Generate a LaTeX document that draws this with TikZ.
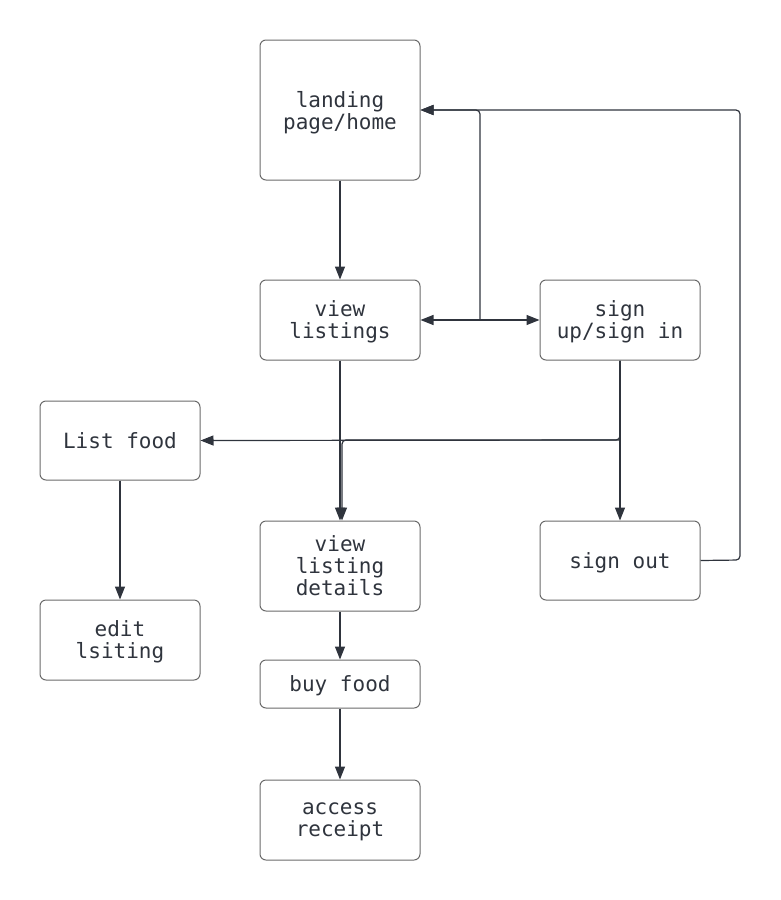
\documentclass[tikz,border=0pt]{standalone}
\usepackage{fontspec}
\usetikzlibrary{arrows.meta}
\newfontfamily\monofont{DejaVu Sans Mono}
\definecolor{ink}{HTML}{2F343D}
\definecolor{edge}{HTML}{6A6A6A}

\begin{document}
\begin{tikzpicture}[x=1pt,y=-1pt]
    \tikzstyle{every node}=[font=\monofont\fontsize{21}{22}\selectfont,text=ink]
    \tikzstyle{page}=[draw=edge,line width=1pt,rounded corners=6pt,minimum width=160pt,minimum height=80pt,align=center,inner sep=0pt,text depth=0pt]
    \tikzstyle{link}=[draw=ink,line width=1.2pt,rounded corners=4pt,-{Triangle[length=13pt,width=10pt]}]
    \useasboundingbox (0,0) rectangle (781,900);
    % pages
    \node[page,minimum height=140pt] (land) at (340,110) {landing\\page/home};
    \node[page] (view) at (340,320) {view\\listings};
    \node[page] (sign) at (620,320) {sign\\up/sign in};
    \node[page,minimum height=79pt] (list) at (120,440.5) {List food};
    \node[page,minimum height=90pt] (det) at (340,566) {view\\listing\\details};
    \node[page,minimum height=79pt] (out) at (620,560.5) {sign out};
    \node[page] (edit) at (120,640) {edit\\lsiting};
    \node[page,minimum height=48pt] (buy) at (340,684) {buy food};
    \node[page] (rec) at (340,820) {access\\receipt};
    % bends
    \coordinate (up) at (480,320);
    \coordinate (back) at (740,560);
    \coordinate (split) at (620,440);
    % links
    \draw[link] (land) -- (view);
    \draw[link,{Triangle[length=13pt,width=10pt]}-{Triangle[length=13pt,width=10pt]}] (view) -- (sign);
    \draw[link] (up) |- (land.east);
    \draw[link] (out.east) -- (back) |- (land.east);
    \draw[link] (sign) -- (out);
    \draw[link] (sign.south) -- (split) -- (list.east);
    \draw[link] (split) -| ([xshift=2pt]det.north);
    \draw[link] (view) -- (det);
    \draw[link] (list) -- (edit);
    \draw[link] (det) -- (buy);
    \draw[link] (buy) -- (rec);
\end{tikzpicture}
\end{document}
